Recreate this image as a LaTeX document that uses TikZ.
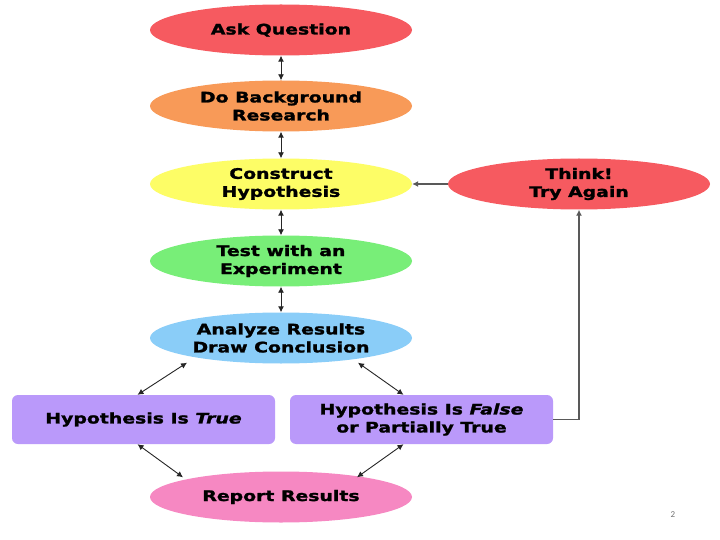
\documentclass[tikz,border=0pt]{standalone}
\usepackage{fontspec}
\setmainfont{DejaVu Sans}[FakeStretch=1.3, BoldFeatures={FakeBold=1.6}, BoldItalicFeatures={FakeBold=1.6}]
\newfontfamily\pgfont{Carlito}
\usetikzlibrary{shapes.geometric,arrows.meta}
\definecolor{cred}{HTML}{F65A60}
\definecolor{corange}{HTML}{F89A58}
\definecolor{cyellow}{HTML}{FDFD66}
\definecolor{cgreen}{HTML}{78EE78}
\definecolor{cblue}{HTML}{8ACDF8}
\definecolor{cpurple}{HTML}{BA99FA}
\definecolor{cpink}{HTML}{F688C2}
\tikzset{
  oval/.style={ellipse, minimum width=262pt, minimum height=51pt, inner sep=0pt,
    align=center, font=\fontsize{14.5}{18}\selectfont\bfseries},
  rbox/.style={rectangle, rounded corners=6pt, minimum width=263pt, minimum height=49pt,
    inner sep=0pt, align=center, fill=cpurple, font=\fontsize{14.5}{18}\selectfont\bfseries},
  link/.style={draw=black!85, line width=0.9pt, {Latex[length=6pt,width=6pt]}-{Latex[length=6pt,width=6pt]}},
  onelink/.style={draw=black!65, line width=1.3pt, -{Latex[length=6pt,width=6pt]}}
}
\begin{document}
\begin{tikzpicture}[x=1pt,y=-1pt]
\useasboundingbox[fill=white] (0,0) rectangle (720,540);
\node[oval, fill=cred]    (ask)   at (281,30)  {Ask Question};
\node[oval, fill=corange] (bg)    at (281,106) {Do Background\\Research};
\node[oval, fill=cyellow] (cons)  at (281,184) {Construct\\Hypothesis};
\node[oval, fill=cgreen]  (test)  at (281,261) {Test with an\\Experiment};
\node[oval, fill=cblue]   (ana)   at (281,338) {Analyze Results\\Draw Conclusion};
\node[oval, fill=cred]    (think) at (579,184) {Think!\\Try Again};
\node[rbox] (ht) at (143.5,419.5) {Hypothesis Is \textit{True}};
\node[rbox] (hf) at (421.5,419.5) {Hypothesis Is \textit{False}\\or Partially True};
\node[oval, fill=cpink]   (rep)   at (281,497) {Report Results};
\node[font=\pgfont\fontsize{9}{10}\selectfont, text=black!55] (pg) at (673,515) {2};

\draw[link] (ask.south) -- (bg.north);
\draw[link] (bg.south) -- (cons.north);
\draw[link] (cons.south) -- (test.north);
\draw[link] (test.south) -- (ana.north);
\draw[link] ([xshift=-94pt,yshift=1pt]ana.south) -- ([xshift=-6pt]ht.north);
\draw[link] ([xshift=77pt,yshift=1pt]ana.south) -- ([xshift=-18pt]hf.north);
\draw[link] ([xshift=-6pt]ht.south) -- ([xshift=-98pt,yshift=-6pt]rep.north);
\draw[link] ([xshift=-18pt]hf.south) -- ([xshift=76pt,yshift=-6pt]rep.north);
\draw[onelink] (hf.east) -| (think.south);
\draw[onelink] (think.west) -- (cons.east);
\end{tikzpicture}
\end{document}
